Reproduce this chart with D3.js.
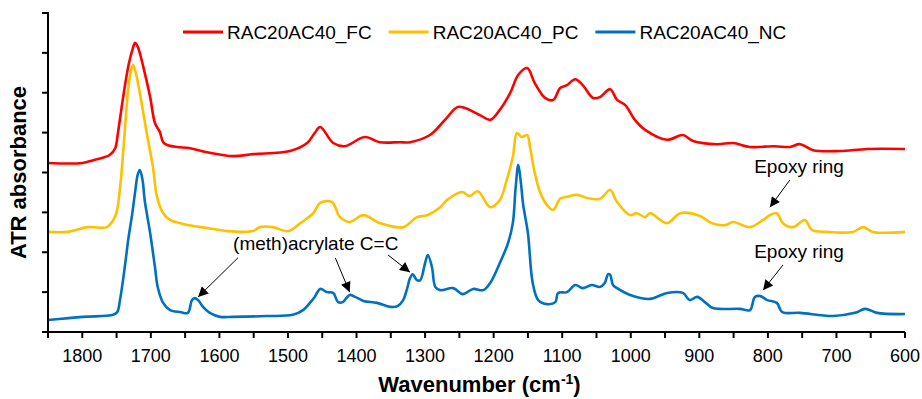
<!DOCTYPE html>
<html>
<head>
<meta charset="utf-8">
<script src="https://cdn.jsdelivr.net/npm/d3@7"></script>
<style>
  html, body { margin: 0; padding: 0; background: #fff; }
  svg { display: block; }
</style>
</head>
<body>
<svg id="chart" width="922" height="399"></svg>
<script>
// ATR-FTIR spectra, wavenumber (cm-1) vs absorbance (stacked, arbitrary offsets)
const seriesNames = ["RAC20AC40_FC", "RAC20AC40_PC", "RAC20AC40_NC"];
const seriesColors = ["#ff0000", "#ffc000", "#0070c0"];

const fcWave = [1850,1800,1784,1760,1752,1748,1741,1733,1727,1723,1719,1711,1701,1694,1687,1682,1676,1662,1643,1618,1580,1551,1497,1472,1461,1453,1434,1417,1388,1366,1337,1322,1293,1271,1253,1242,1220,1205,1191,1176,1164,1151,1140,1125,1113,1103,1093,1081,1070,1055,1045,1030,1020,1008,994,979,947,924,909,874,851,826,790,768,753,734,695,655,600];
const fcAbs  = [0.424,0.424,0.431,0.444,0.461,0.499,0.582,0.665,0.707,0.725,0.715,0.665,0.589,0.524,0.502,0.476,0.469,0.464,0.461,0.451,0.441,0.446,0.454,0.474,0.499,0.514,0.474,0.466,0.489,0.476,0.476,0.476,0.494,0.532,0.564,0.562,0.544,0.532,0.557,0.599,0.645,0.662,0.624,0.587,0.582,0.612,0.619,0.634,0.619,0.587,0.589,0.609,0.582,0.569,0.532,0.507,0.482,0.494,0.479,0.471,0.474,0.464,0.466,0.464,0.471,0.456,0.454,0.459,0.459];

const pcWave = [1850,1822,1792,1764,1755,1750,1745,1740,1736,1733,1729,1726,1722,1716,1706,1697,1691,1682,1672,1657,1638,1618,1589,1551,1541,1522,1500,1482,1463,1453,1436,1424,1410,1390,1366,1332,1312,1297,1278,1268,1246,1235,1223,1205,1191,1181,1172,1166,1159,1151,1147,1140,1132,1122,1113,1103,1093,1078,1064,1045,1030,1020,1001,991,979,972,947,928,899,882,862,851,826,807,797,787,778,763,746,736,714,676,661,647,600];
const pcAbs  = [0.251,0.251,0.263,0.263,0.280,0.300,0.360,0.460,0.550,0.610,0.655,0.670,0.650,0.599,0.499,0.414,0.339,0.298,0.281,0.273,0.266,0.261,0.253,0.253,0.263,0.263,0.253,0.273,0.298,0.324,0.326,0.288,0.276,0.293,0.273,0.263,0.288,0.293,0.313,0.331,0.351,0.341,0.353,0.313,0.331,0.381,0.439,0.499,0.489,0.494,0.464,0.399,0.349,0.318,0.306,0.334,0.339,0.344,0.336,0.334,0.356,0.326,0.293,0.298,0.288,0.298,0.273,0.298,0.291,0.273,0.268,0.276,0.263,0.281,0.293,0.298,0.273,0.263,0.281,0.256,0.251,0.251,0.263,0.251,0.251];

const ncWave = [1850,1799,1755,1749,1745,1738,1733,1727,1723,1719,1716,1712,1709,1701,1694,1690,1682,1672,1657,1646,1640,1636,1631,1624,1614,1599,1580,1531,1493,1478,1468,1461,1453,1443,1434,1427,1420,1410,1402,1390,1370,1351,1340,1332,1326,1322,1318,1312,1307,1300,1296,1290,1285,1278,1259,1245,1230,1215,1205,1191,1179,1172,1168,1164,1160,1157,1150,1143,1135,1122,1110,1106,1093,1081,1070,1057,1045,1038,1033,1030,1026,1020,1001,972,947,924,914,903,892,880,841,826,819,811,801,787,779,753,705,673,658,641,600];
const ncAbs  = [0.030,0.038,0.043,0.050,0.080,0.163,0.231,0.298,0.350,0.395,0.406,0.380,0.331,0.248,0.163,0.113,0.073,0.055,0.050,0.048,0.080,0.085,0.080,0.063,0.048,0.038,0.038,0.040,0.043,0.055,0.073,0.088,0.108,0.100,0.098,0.075,0.075,0.093,0.088,0.078,0.073,0.063,0.065,0.080,0.110,0.135,0.145,0.130,0.130,0.173,0.193,0.163,0.113,0.105,0.110,0.095,0.108,0.105,0.123,0.173,0.223,0.273,0.360,0.419,0.370,0.320,0.248,0.123,0.080,0.070,0.075,0.098,0.100,0.118,0.110,0.118,0.113,0.123,0.145,0.143,0.118,0.110,0.093,0.083,0.098,0.098,0.080,0.088,0.075,0.060,0.058,0.055,0.088,0.090,0.080,0.073,0.050,0.048,0.040,0.048,0.058,0.048,0.045];

const xTickMajor = [1800,1700,1600,1500,1400,1300,1200,1100,1000,900,800,700,600];
const xDomain = [1850, 600];
const yDomain = [0, 0.8];

// Peak annotations: label text, label anchor (wavenumber, absorbance), arrow from -> to
const noteText = ["(meth)acrylate C=C", "Epoxy ring", "Epoxy ring"];
const noteAt   = [[1580, 0.206], [820, 0.399], [820, 0.186]];
const arrowFrom = [[1573, 0.186], [1431, 0.186], [1354, 0.193], [768, 0.381], [778, 0.168]];
const arrowTo   = [[1631, 0.088], [1410, 0.100], [1322, 0.150], [797, 0.313], [807, 0.105]];

const svg = d3.select("#chart");
const margin = { left: 48, right: 17, top: 13, bottom: 67 };
const W = 922, H = 399;

const x = d3.scaleLinear().domain(xDomain).range([margin.left, W - margin.right]);
const y = d3.scaleLinear().domain(yDomain).range([H - margin.bottom, margin.top]);

const font = "'Liberation Sans', Arial, sans-serif";

// Spectra
const series = [
  { name: seriesNames[0], color: seriesColors[0], wave: fcWave, abs: fcAbs },
  { name: seriesNames[1], color: seriesColors[1], wave: pcWave, abs: pcAbs },
  { name: seriesNames[2], color: seriesColors[2], wave: ncWave, abs: ncAbs }
];

const line = d3.line()
  .x(d => x(d[0]))
  .y(d => y(d[1]))
  .curve(d3.curveCatmullRom.alpha(0.5));

svg.append("g").selectAll("path")
  .data(series.slice().reverse())
  .join("path")
  .attr("fill", "none")
  .attr("stroke", d => d.color)
  .attr("stroke-width", 2.6)
  .attr("stroke-linejoin", "round")
  .attr("d", d => line(d.wave.map((w, i) => [w, d.abs[i]]).sort((a, b) => b[0] - a[0])));

// X axis: minor ticks every 50, labels every 100
const xAxis = svg.append("g").attr("transform", `translate(0,${y(0)})`);
xAxis.append("line")
  .attr("x1", x(xDomain[0])).attr("x2", x(xDomain[1]))
  .attr("stroke", "#000").attr("stroke-width", 2);
xAxis.selectAll("line.tick")
  .data(d3.range(1850, 599, -50))
  .join("line")
  .attr("class", "tick")
  .attr("x1", d => x(d)).attr("x2", d => x(d))
  .attr("y1", 0).attr("y2", 6)
  .attr("stroke", "#000").attr("stroke-width", 2);
xAxis.selectAll("text")
  .data(xTickMajor)
  .join("text")
  .attr("x", d => x(d))
  .attr("y", 30)
  .attr("text-anchor", "middle")
  .attr("font-family", font)
  .attr("font-size", 18)
  .text(d => d);

// Y axis: unlabelled ticks
const yAxis = svg.append("g").attr("transform", `translate(${x(xDomain[0])},0)`);
yAxis.append("line")
  .attr("y1", y(yDomain[0]) + 1).attr("y2", y(yDomain[1]) - 1)
  .attr("stroke", "#000").attr("stroke-width", 2);
yAxis.selectAll("line.tick")
  .data(y.ticks(8))
  .join("line")
  .attr("class", "tick")
  .attr("x1", -6).attr("x2", 0)
  .attr("y1", d => y(d)).attr("y2", d => y(d))
  .attr("stroke", "#000").attr("stroke-width", 2);

// Axis titles
const xTitle = svg.append("text")
  .attr("x", (x.range()[0] + x.range()[1]) / 2 + 3)
  .attr("y", 392)
  .attr("text-anchor", "middle")
  .attr("font-family", font)
  .attr("font-weight", "bold")
  .attr("font-size", 22);
xTitle.append("tspan").text("Wavenumber (cm");
xTitle.append("tspan").attr("font-size", 14).attr("dy", -8).text("-1");
xTitle.append("tspan").attr("dy", 8).text(")");

svg.append("text")
  .attr("transform", `translate(26,${(y.range()[0] + y.range()[1]) / 2}) rotate(-90)`)
  .attr("text-anchor", "middle")
  .attr("font-family", font)
  .attr("font-weight", "bold")
  .attr("font-size", 22)
  .text("ATR absorbance");

// Legend
const legend = svg.append("g");
let lx = 183;
series.forEach(s => {
  legend.append("line")
    .attr("x1", lx).attr("x2", lx + 40)
    .attr("y1", 32).attr("y2", 32)
    .attr("stroke", s.color).attr("stroke-width", 2.8);
  const t = legend.append("text")
    .attr("x", lx + 44).attr("y", 39)
    .attr("font-family", font)
    .attr("font-size", 19)
    .text(s.name);
  lx += 44 + t.node().getComputedTextLength() + 17;
});

// Annotations
const defs = svg.append("defs");
defs.append("marker")
  .attr("id", "arrowhead")
  .attr("viewBox", "0 0 10 10")
  .attr("refX", 10).attr("refY", 5)
  .attr("markerWidth", 12).attr("markerHeight", 10)
  .attr("markerUnits", "userSpaceOnUse")
  .attr("orient", "auto")
  .append("path")
  .attr("d", "M0,0 L10,5 L0,10 Z")
  .attr("fill", "#000");

svg.append("g").selectAll("line")
  .data(arrowFrom.map((f, i) => [f, arrowTo[i]]))
  .join("line")
  .attr("x1", d => x(d[0][0])).attr("y1", d => y(d[0][1]))
  .attr("x2", d => x(d[1][0])).attr("y2", d => y(d[1][1]))
  .attr("stroke", "#000").attr("stroke-width", 1)
  .attr("marker-end", "url(#arrowhead)");

svg.append("g").selectAll("text")
  .data(noteText.map((t, i) => [t, noteAt[i]]))
  .join("text")
  .attr("x", d => x(d[1][0])).attr("y", d => y(d[1][1]))
  .attr("font-family", font)
  .attr("font-size", 19)
  .text(d => d[0]);
</script>
</body>
</html>
